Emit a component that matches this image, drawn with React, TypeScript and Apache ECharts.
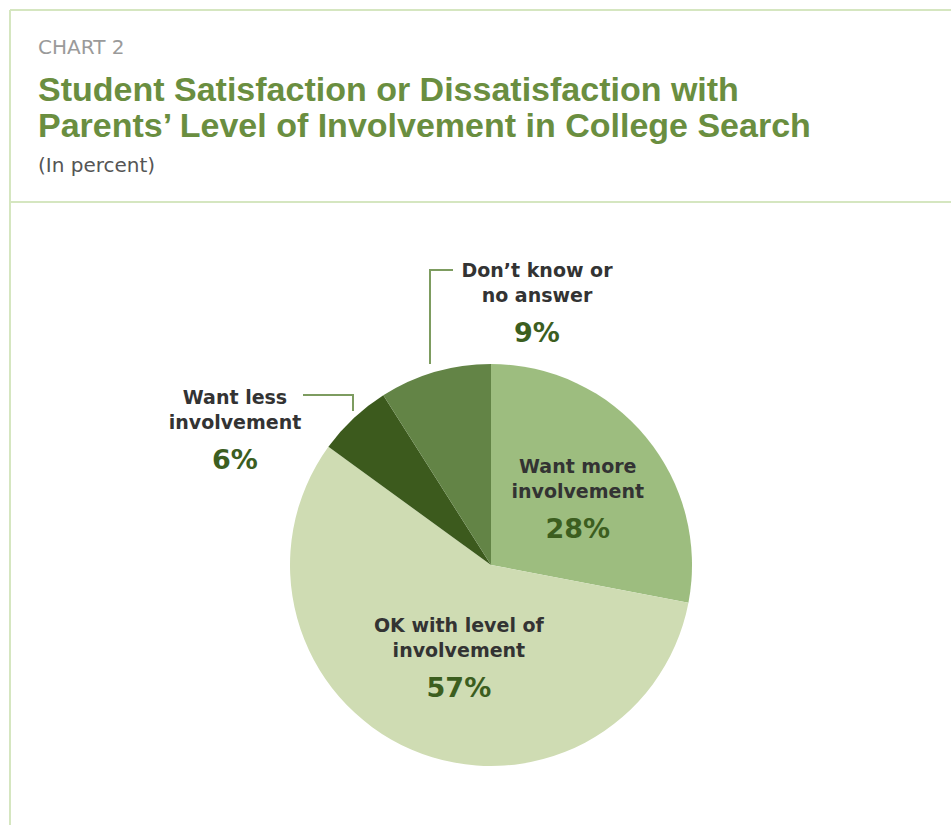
import React, { useEffect, useRef } from "react";
import * as echarts from "echarts";

const categories = ["Want more involvement", "OK with level of involvement", "Want less involvement", "Don't know or no answer"];
const labelLines = [["Want more", "involvement"], ["OK with level of", "involvement"], ["Want less", "involvement"], ["Don\u2019t know or", "no answer"]];
const values = [28, 57, 6, 9];
const colors = ["#9dbd7f", "#cfdcb3", "#3c5a1d", "#638446"];

const titleLines = ["Student Satisfaction or Dissatisfaction with", "Parents\u2019 Level of Involvement in College Search"];

export default function App() {
  const ref = useRef<HTMLDivElement>(null);
  useEffect(() => {
    document.body.style.margin = "0";
    const chart = echarts.init(ref.current!, null, { renderer: "svg" });
    const font = "'DejaVu Sans', sans-serif";
    const lineColor = "#d5e6c0";
    const outsidePos: Record<number, any> = {
      2: { x: 235, y: 384, points: [[303, 395], [353, 395], [353, 411]] },
      3: { x: 537, y: 257, points: [[430, 364], [430, 270], [453, 270]] },
    };
    const insideShift: Record<number, any> = {
      0: { dx: 7, dy: 4 },
      1: { dx: 9, dy: 3 },
    };
    chart.setOption({
      animation: false,
      graphic: [
        { type: "line", shape: { x1: 10, y1: 10, x2: 951, y2: 10 }, style: { stroke: lineColor, lineWidth: 2 } },
        { type: "line", shape: { x1: 10, y1: 10, x2: 10, y2: 825 }, style: { stroke: lineColor, lineWidth: 2 } },
        { type: "line", shape: { x1: 10, y1: 202, x2: 951, y2: 202 }, style: { stroke: lineColor, lineWidth: 2 } },
        { type: "text", x: 38, y: 47, style: { text: "CHART 2", fill: "#9a9a9a", font: "20px 'DejaVu Sans', sans-serif", verticalAlign: "middle" } },
        { type: "text", x: 38, y: 89, style: { text: titleLines[0], fill: "#6a8e40", font: "bold 34px 'Liberation Sans', sans-serif", verticalAlign: "middle" } },
        { type: "text", x: 38, y: 125, style: { text: titleLines[1], fill: "#6a8e40", font: "bold 34px 'Liberation Sans', sans-serif", verticalAlign: "middle" } },
        { type: "text", x: 38, y: 165, style: { text: "(In percent)", fill: "#555555", font: "20px 'DejaVu Sans', sans-serif", verticalAlign: "middle" } },
      ],
      series: [
        {
          type: "pie",
          center: [491, 565],
          radius: 201,
          startAngle: 90,
          clockwise: true,
          silent: true,
          itemStyle: { borderWidth: 0 },
          label: {
            position: "inside",
            align: "center",
            formatter: (p: any) => {
              const l = labelLines[p.dataIndex];
              return `{n|${l[0]}}\n{n|${l[1]}}\n{p|${values[p.dataIndex]}%}`;
            },
            rich: {
              n: { fontFamily: font, fontWeight: "bold", fontSize: 19, color: "#333333", lineHeight: 25, align: "center" },
              p: { fontFamily: font, fontWeight: "bold", fontSize: 27, color: "#3c5e1f", lineHeight: 50, align: "center" },
            },
          },
          labelLine: { show: false },
          labelLayout: (params: any) => {
            const o = outsidePos[params.dataIndex];
            if (o) {
              return { x: o.x, y: o.y, align: "center", verticalAlign: "top", labelLinePoints: o.points };
            }
            return insideShift[params.dataIndex];
          },
          data: categories.map((c, i) => {
            const item: any = { name: c, value: values[i], itemStyle: { color: colors[i] } };
            if (outsidePos[i]) {
              item.label = { position: "outside" };
              item.labelLine = { show: true, lineStyle: { color: "#7d9c60", width: 2 } };
            }
            return item;
          }),
        },
      ],
    });
    return () => chart.dispose();
  }, []);
  return <div ref={ref} style={{ width: 951, height: 825 }} />;
}
